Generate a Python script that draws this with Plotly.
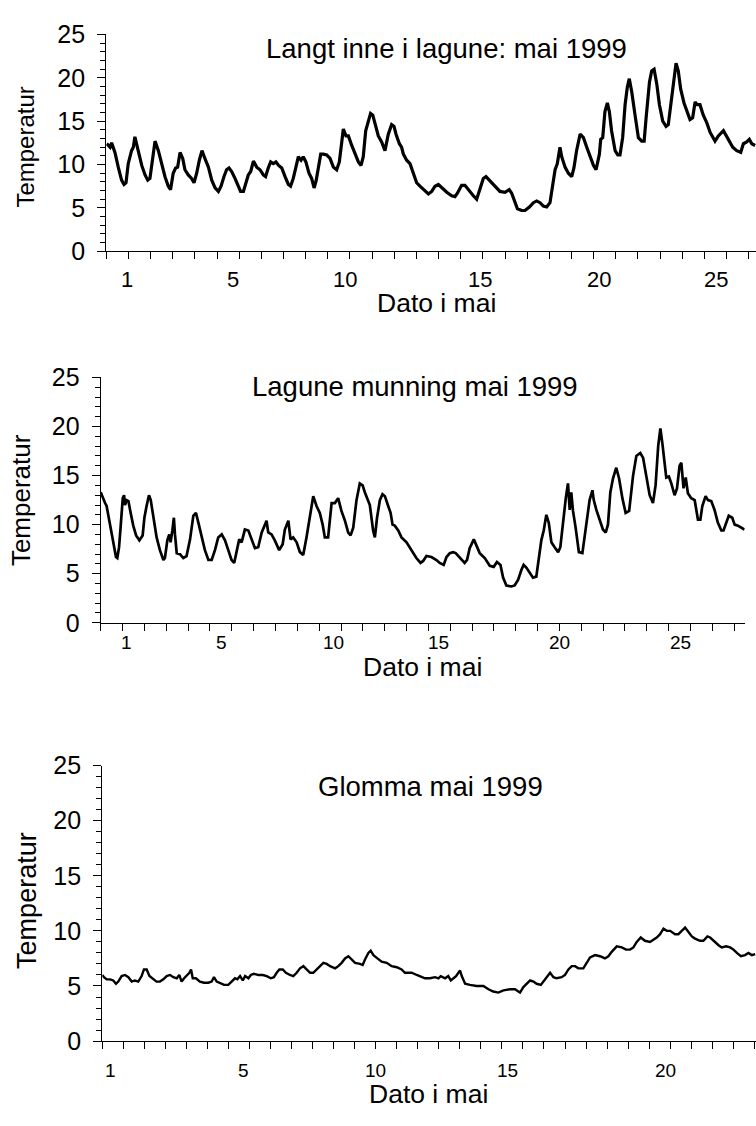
import plotly.graph_objects as go

# ---------------- Panel 1: Langt inne i lagune ----------------
t1 = [0.02, 0.17, 0.24, 0.39, 0.54, 0.69, 0.80, 0.89, 0.99, 1.14, 1.22, 1.29, 1.44, 1.60, 1.75, 1.87, 1.97,
      2.09, 2.20, 2.35, 2.50, 2.65, 2.80, 2.90, 3.02, 3.13, 3.22, 3.33, 3.45, 3.55, 3.70, 3.85, 3.96, 4.08,
      4.20, 4.32, 4.45, 4.61, 4.76, 4.91, 5.06, 5.18, 5.31, 5.43, 5.54, 5.66, 5.81, 5.96, 6.06, 6.19, 6.31,
      6.41, 6.52, 6.64, 6.79, 6.94, 7.09, 7.19, 7.31, 7.42, 7.54, 7.66, 7.78, 7.92, 8.07, 8.22, 8.32, 8.44,
      8.56, 8.67, 8.79, 8.89, 9.01, 9.15, 9.27, 9.38, 9.47, 9.57, 9.68, 9.80, 9.95, 10.10, 10.25, 10.40,
      10.52, 10.62, 10.70, 10.82, 10.93, 11.08, 11.23, 11.38, 11.50, 11.60, 11.71, 11.83, 11.93,
      12.03, 12.13, 12.28, 12.43, 12.58, 12.73, 12.88, 12.99, 13.08, 13.23, 13.33, 13.41, 13.56, 13.71,
      13.86, 14.01, 14.16, 14.31, 14.54, 14.69, 14.84, 14.99, 15.14, 15.37, 15.59, 15.74, 15.85, 16.04,
      16.19, 16.34, 16.57, 16.72, 16.87, 17.02, 17.14, 17.32, 17.55, 17.77, 18.00, 18.19, 18.30, 18.45,
      18.56, 18.75, 18.90, 19.10, 19.28, 19.43, 19.58, 19.73, 19.88, 20.03, 20.15, 20.26, 20.36, 20.48,
      20.56, 20.71, 20.86, 21.01, 21.11, 21.23, 21.39, 21.54, 21.69, 21.84, 21.99, 22.11, 22.26, 22.32,
      22.41, 22.51, 22.62, 22.71, 22.81, 22.97, 23.09, 23.19, 23.31, 23.42, 23.52, 23.61, 23.72, 23.87,
      24.02, 24.17, 24.28, 24.37, 24.52, 24.62, 24.73, 24.85, 24.97, 25.12, 25.27, 25.37, 25.49, 25.63,
      25.72, 25.82, 25.93, 26.08, 26.23, 26.35, 26.47, 26.58, 26.68, 26.80, 26.95, 27.11, 27.26, 27.48,
      27.63, 27.86, 28.08, 28.28, 28.46, 28.64, 28.76, 28.91, 29.03, 29.14, 29.29]
temp1 = [12.4, 12.0, 12.5, 11.4, 9.7, 8.2, 7.7, 7.9, 10.1, 11.6, 12.0, 13.2, 11.6, 9.9, 8.8, 8.2, 8.4,
         10.5, 12.7, 11.6, 10.1, 8.6, 7.5, 7.1, 9.0, 9.6, 9.7, 11.4, 10.7, 9.4, 8.8, 8.4, 7.9, 9.0,
         10.5, 11.6, 10.7, 9.7, 8.2, 7.3, 6.9, 7.5, 8.6, 9.4, 9.6, 9.2, 8.4, 7.5, 6.9, 6.9, 7.9,
         8.8, 9.2, 10.4, 9.7, 9.4, 8.8, 8.6, 9.6, 10.3, 10.1, 10.3, 9.9, 9.6, 8.6, 7.7, 7.5, 8.4,
         9.7, 10.9, 10.5, 10.9, 10.3, 9.0, 8.4, 7.3, 8.1, 9.7, 11.2, 11.2, 11.1, 10.7, 9.7, 9.4,
         10.3, 12.4, 14.1, 13.3, 13.3, 12.2, 11.2, 10.3, 9.9, 10.9, 13.9, 15.0, 15.9,
         15.7, 14.6, 13.3, 12.6, 11.6, 13.5, 14.6, 14.4, 13.5, 12.4, 12.0, 11.2, 10.5, 10.1,
         9.0, 7.9, 7.5, 7.1, 6.6, 6.9, 7.5, 7.7, 7.3, 6.8, 6.4, 6.3, 6.7, 7.6,
         7.6, 7.1, 6.4, 6.0, 7.1, 8.4, 8.6, 8.1, 7.5, 6.9, 6.8, 7.1, 6.7, 5.6,
         4.9, 4.7, 4.7, 5.1, 5.6, 5.8, 5.6, 5.2, 5.1, 5.6, 7.5, 9.4, 10.1, 12.0,
         10.9, 9.7, 9.0, 8.6, 9.6, 11.6, 13.5, 13.1, 12.0, 10.9, 9.9, 9.4, 11.2, 12.9,
         13.1, 16.1, 17.1, 16.1, 13.9, 11.6, 11.1, 11.1, 13.1, 16.9, 18.9, 19.9, 18.4, 15.7,
         13.1, 12.7, 12.7, 15.4, 19.5, 20.8, 21.0, 19.3, 16.9, 15.0, 14.4, 14.6, 16.9, 20.2,
         21.7, 20.8, 18.7, 17.1, 15.9, 15.2, 15.4, 17.2, 16.9, 16.9, 15.7, 14.8, 13.7, 12.7,
         13.3, 13.9, 12.9, 12.0, 11.6, 11.4, 12.4, 12.6, 12.9, 12.4, 12.2]
lab_pos1 = [0.95, 5.71, 10.78, 16.86, 22.24, 27.54]
lab_txt1 = ["1", "5", "10", "15", "20", "25"]

# ---------------- Panel 2: Lagune munning ----------------
t2 = [0.00, 0.09, 0.20, 0.27, 0.40, 0.50, 0.61, 0.70, 0.76, 0.84, 0.91, 1.01, 1.07, 1.11, 1.19, 1.27, 1.37,
      1.49, 1.62, 1.77, 1.92, 2.00, 2.10, 2.21, 2.29, 2.41, 2.56, 2.71, 2.87, 2.94, 3.05, 3.14, 3.20, 3.28,
      3.35, 3.40, 3.48, 3.63, 3.78, 3.93, 4.09, 4.24, 4.36, 4.47, 4.62, 4.77, 4.93, 5.08, 5.23, 5.38, 5.54,
      5.69, 5.84, 5.99, 6.11, 6.22, 6.34, 6.45, 6.60, 6.76, 6.91, 7.06, 7.21, 7.37, 7.52, 7.59, 7.67, 7.82,
      7.97, 8.17, 8.33, 8.43, 8.59, 8.69, 8.81, 8.97, 9.12, 9.27, 9.42, 9.58, 9.73, 9.88, 10.03, 10.16,
      10.26, 10.41, 10.57, 10.72, 10.87, 11.02, 11.18, 11.33, 11.44, 11.56, 11.71, 11.86, 11.99, 12.09,
      12.24, 12.32, 12.47, 12.55, 12.65, 12.78, 12.90, 13.01, 13.16, 13.27, 13.36, 13.46, 13.62, 13.77,
      14.00, 14.23, 14.45, 14.64, 14.76, 14.91, 15.14, 15.37, 15.52, 15.70, 15.83, 15.98, 16.13, 16.25,
      16.41, 16.66, 16.77, 16.89, 17.08, 17.23, 17.35, 17.58, 17.81, 17.99, 18.14, 18.30, 18.42, 18.57,
      18.80, 18.95, 19.11, 19.26, 19.36, 19.49, 19.64, 19.79, 19.94, 20.07, 20.17, 20.28, 20.40, 20.51,
      20.63, 20.78, 20.94, 21.04, 21.16, 21.29, 21.39, 21.47, 21.54, 21.62, 21.74, 21.89, 22.05, 22.15,
      22.26, 22.38, 22.51, 22.57, 22.69, 22.84, 22.99, 23.12, 23.22, 23.33, 23.45, 23.60, 23.73, 23.88,
      24.03, 24.19, 24.37, 24.52, 24.70, 24.83, 24.98, 25.13, 25.28, 25.40, 25.52, 25.62, 25.71, 25.81,
      25.89, 26.01, 26.12, 26.27, 26.38, 26.50, 26.58, 26.68, 26.78, 26.88, 27.03, 27.19, 27.34, 27.45,
      27.54, 27.69, 27.80, 27.95, 28.10, 28.25, 28.41, 28.51, 28.64, 28.75, 28.91, 29.02, 29.17, 29.32, 29.47]
temp2 = [13.3, 12.7, 12.2, 11.9, 10.4, 9.0, 7.7, 6.7, 6.6, 7.7, 9.7, 12.7, 13.0, 12.0, 12.5, 12.4, 11.2,
         9.9, 8.9, 8.4, 8.9, 10.7, 11.9, 13.0, 12.5, 10.7, 8.7, 7.4, 6.4, 6.6, 8.4, 9.0, 8.2, 9.4,
         10.7, 9.0, 7.1, 7.0, 6.6, 6.8, 8.5, 10.9, 11.2, 10.2, 8.9, 7.4, 6.4, 6.4, 7.4, 8.7, 9.0,
         8.4, 7.4, 6.4, 6.1, 7.1, 8.5, 8.2, 9.5, 9.4, 8.4, 7.6, 7.7, 9.2, 10.0, 10.4, 9.2, 9.0,
         8.4, 7.4, 8.0, 9.5, 10.4, 8.5, 8.7, 8.2, 7.2, 6.9, 8.7, 11.0, 12.9, 11.9, 11.2, 10.0,
         8.7, 8.7, 12.2, 12.2, 12.7, 11.4, 10.4, 9.2, 8.9, 9.7, 12.5, 14.2, 14.0, 13.3,
         12.4, 12.0, 9.4, 8.7, 10.7, 12.5, 13.1, 12.9, 11.9, 11.2, 10.0, 9.9, 9.4, 8.7,
         8.2, 7.4, 6.6, 6.1, 6.3, 6.8, 6.7, 6.4, 6.1, 5.9, 6.7, 7.1, 7.2, 7.1,
         6.7, 6.1, 6.4, 7.6, 8.5, 7.7, 7.1, 6.6, 5.8, 5.7, 6.2, 5.9, 4.6, 3.8,
         3.7, 3.8, 4.4, 5.4, 5.9, 5.6, 5.1, 4.6, 4.7, 6.7, 8.4, 9.4, 11.0, 10.2,
         8.2, 7.7, 7.2, 7.7, 10.4, 12.7, 14.2, 11.5, 13.3, 11.4, 9.7, 7.2, 7.1, 8.7,
         10.7, 12.5, 13.5, 12.5, 11.5, 10.4, 9.5, 9.2, 10.0, 13.3, 14.7, 15.8, 14.7, 12.7,
         11.2, 11.4, 15.0, 17.0, 17.3, 16.8, 14.7, 13.0, 12.2, 14.0, 18.0, 19.8, 18.3, 16.0,
         14.8, 14.9, 14.2, 13.0, 13.7, 16.0, 16.3, 13.7, 14.8, 13.2, 12.7, 12.5, 10.5, 10.5,
         11.9, 12.9, 12.5, 12.4, 11.5, 10.2, 9.4, 9.4, 10.2, 10.9, 10.7, 10.0, 9.9, 9.7, 9.5]
lab_pos2 = [1.19, 5.54, 10.64, 15.46, 21.0, 26.56]
lab_txt2 = ["1", "5", "10", "15", "20", "25"]

# ---------------- Panel 3: Glomma ----------------
t3 = [0.00, 0.08, 0.21, 0.37, 0.52, 0.65, 0.76, 0.92, 1.08, 1.24, 1.40, 1.55, 1.71, 1.87, 1.98, 2.11, 2.24,
      2.39, 2.58, 2.74, 2.90, 3.06, 3.22, 3.38, 3.54, 3.66, 3.77, 3.89, 4.01, 4.14, 4.22, 4.30, 4.45, 4.64,
      4.83, 5.04, 5.20, 5.31, 5.44, 5.63, 5.79, 5.99, 6.15, 6.31, 6.42, 6.55, 6.68, 6.79, 6.95, 7.06, 7.21,
      7.42, 7.63, 7.82, 8.01, 8.16, 8.29, 8.42, 8.58, 8.73, 8.92, 9.08, 9.24, 9.40, 9.56, 9.72, 9.88, 10.03,
      10.19, 10.35, 10.51, 10.67, 10.83, 11.07, 11.22, 11.38, 11.54, 11.70, 11.86, 12.02, 12.25, 12.38,
      12.49, 12.65, 12.76, 12.89, 13.08, 13.28, 13.52, 13.76, 14.00, 14.23, 14.39, 14.71, 14.95, 15.11,
      15.34, 15.58, 15.82, 15.98, 16.09, 16.30, 16.45, 16.57, 16.69, 16.82, 16.93, 17.01, 17.09, 17.25,
      17.48, 17.80, 18.12, 18.36, 18.59, 18.83, 19.07, 19.39, 19.62, 19.86, 20.02, 20.18, 20.34, 20.50,
      20.65, 20.85, 21.01, 21.13, 21.29, 21.45, 21.60, 21.84, 22.00, 22.16, 22.32, 22.48, 22.63, 22.87,
      23.03, 23.19, 23.43, 23.66, 23.90, 24.06, 24.22, 24.46, 24.70, 24.90, 25.09, 25.25, 25.41, 25.60,
      25.80, 26.04, 26.20, 26.36, 26.52, 26.68, 26.84, 27.00, 27.23, 27.39, 27.55, 27.71, 27.87, 28.03,
      28.18, 28.42, 28.58, 28.77, 28.90, 29.06, 29.30, 29.45, 29.66, 29.85, 30.01, 30.17, 30.36, 30.56,
      30.72, 30.88, 31.04]
temp3 = [6.0, 5.8, 5.6, 5.6, 5.5, 5.2, 5.4, 5.9, 6.0, 5.8, 5.4, 5.5, 5.4, 5.9, 6.5, 6.5, 5.9,
         5.7, 5.4, 5.4, 5.6, 5.9, 6.0, 5.8, 5.7, 6.0, 5.4, 5.7, 5.9, 6.2, 6.5, 5.7, 5.7, 5.4,
         5.3, 5.3, 5.4, 5.8, 5.4, 5.2, 5.1, 5.1, 5.4, 5.7, 5.6, 5.9, 5.5, 5.9, 5.7, 6.0, 6.1,
         6.0, 6.0, 5.9, 5.7, 5.8, 6.2, 6.5, 6.5, 6.2, 6.0, 5.9, 6.2, 6.6, 6.8, 6.5, 6.2, 6.2,
         6.5, 6.8, 7.1, 7.0, 6.8, 6.6, 6.8, 7.1, 7.5, 7.7, 7.4, 7.1, 7.0, 6.9,
         7.4, 8.0, 8.2, 7.8, 7.5, 7.2, 7.1, 6.8, 6.7, 6.5, 6.2, 6.2, 6.0, 5.9,
         5.7, 5.7, 5.8, 5.7, 5.9, 5.7, 5.9, 5.5, 5.7, 5.9, 6.2, 6.4, 5.9, 5.2,
         5.1, 5.0, 5.0, 4.7, 4.5, 4.4, 4.6, 4.7, 4.7, 4.4, 4.9, 5.2, 5.5, 5.4,
         5.2, 5.1, 5.5, 5.8, 6.2, 5.8, 5.7, 5.8, 6.0, 6.5, 6.8, 6.8, 6.6, 6.6,
         7.1, 7.6, 7.8, 7.7, 7.5, 7.7, 8.1, 8.6, 8.5, 8.3, 8.3, 8.5, 9.0, 9.4,
         9.1, 9.0, 9.2, 9.4, 9.7, 10.2, 10.0, 10.0, 9.7, 9.7, 10.0, 10.3, 9.9, 9.5,
         9.3, 9.1, 9.1, 9.5, 9.4, 9.1, 8.7, 8.5, 8.6, 8.5, 8.3, 8.0, 7.7, 7.8,
         8.0, 7.8, 7.9]
lab_pos3 = [0.37, 6.70, 12.97, 19.26, 26.77]
lab_txt3 = ["1", "5", "10", "15", "20"]

titles = ["Langt inne i lagune: mai 1999", "Lagune munning mai 1999", "Glomma mai 1999"]
ytitle = "Temperatur"
xtitle = "Dato i mai"

FONT = "Liberation Sans, Arial, sans-serif"
W, H = 756, 1126

fig = go.Figure()
fig.add_trace(go.Scatter(x=t1, y=temp1, mode="lines", line=dict(color="black", width=3.2),
                         xaxis="x", yaxis="y", hoverinfo="skip"))
fig.add_trace(go.Scatter(x=t2, y=temp2, mode="lines", line=dict(color="black", width=2.7),
                         xaxis="x2", yaxis="y2", hoverinfo="skip"))
fig.add_trace(go.Scatter(x=t3, y=temp3, mode="lines", line=dict(color="black", width=2.4),
                         xaxis="x3", yaxis="y3", hoverinfo="skip"))


def xax(domain, rng, anchor):
    return dict(domain=domain, range=rng, anchor=anchor, showgrid=False, zeroline=False,
                showline=True, linecolor="black", linewidth=1.3,
                tickmode="linear", tick0=0, dtick=1, ticks="outside", ticklen=7,
                tickwidth=1.2, tickcolor="black", showticklabels=False)


def yax(domain, anchor, fsize):
    return dict(domain=domain, range=[0, 25], anchor=anchor, showgrid=False, zeroline=False,
                showline=True, linecolor="black", linewidth=1.3,
                tickmode="linear", tick0=0, dtick=5, ticks="outside", ticklen=8, tickwidth=1.2,
                tickcolor="black", ticklabelstandoff=7,
                minor=dict(tickmode="linear", tick0=0, dtick=1, ticks="outside", ticklen=5,
                           tickwidth=1.2, tickcolor="black", showgrid=False),
                tickfont=dict(family=FONT, size=fsize, color="black"))


fig.update_layout(
    width=W, height=H, margin=dict(l=0, r=0, t=0, b=0),
    paper_bgcolor="white", plot_bgcolor="white", showlegend=False,
    font=dict(family=FONT, color="black"),
    xaxis=xax([106.3 / W, 1.0], [0, 29.33], "y"),
    yaxis=yax([1 - 243.3 / H, 1 - 21.0 / H], "x", 25),
    xaxis2=xax([100.7 / W, 744.7 / W], [0, 29.48], "y2"),
    yaxis2=yax([1 - 624.3 / H, 1 - 372.7 / H], "x2", 25),
    xaxis3=xax([102.3 / W, 1.0], [0, 31.08], "y3"),
    yaxis3=yax([1 - 1053.3 / H, 1 - 770.7 / H], "x3", 25),
)

ann = []
# x tick labels (positioned on each panel's own x axis)
for xref, pos, txt, yc, fs in [("x", lab_pos1, lab_txt1, 272.0, 22),
                               ("x2", lab_pos2, lab_txt2, 645.0, 19),
                               ("x3", lab_pos3, lab_txt3, 1083.0, 19)]:
    for p, tx in zip(pos, txt):
        ann.append(dict(text=tx, x=p, y=1 - yc / H, xref=xref, yref="paper",
                        xanchor="center", yanchor="middle", showarrow=False, borderpad=0,
                        font=dict(family=FONT, size=fs, color="black")))
# panel titles
for txt, xc, yc in [(titles[0], 446, 35.8), (titles[1], 415, 382.5), (titles[2], 430, 792.5)]:
    ann.append(dict(text=txt, x=xc / W, y=1 - yc / H, xref="paper", yref="paper",
                    xanchor="center", yanchor="middle", showarrow=False,
                    font=dict(family=FONT, size=27.5, color="black")))
# y titles
for xc, yc, fs in [(26, 137, 24), (21, 498.5, 26), (27.5, 909, 27)]:
    ann.append(dict(text=ytitle, x=xc / W, y=1 - yc / H, xref="paper", yref="paper",
                    xanchor="center", yanchor="middle", textangle=-90, showarrow=False,
                    font=dict(family=FONT, size=fs, color="black")))
# x titles
for xc, yc, fs in [(436, 296, 26.5), (422.5, 670, 26.5), (428, 1108, 26.5)]:
    ann.append(dict(text=xtitle, x=xc / W, y=1 - yc / H, xref="paper", yref="paper",
                    xanchor="center", yanchor="middle", showarrow=False, borderpad=0,
                    font=dict(family=FONT, size=fs, color="black")))
fig.update_layout(annotations=ann)

fig.write_html("out.html")
